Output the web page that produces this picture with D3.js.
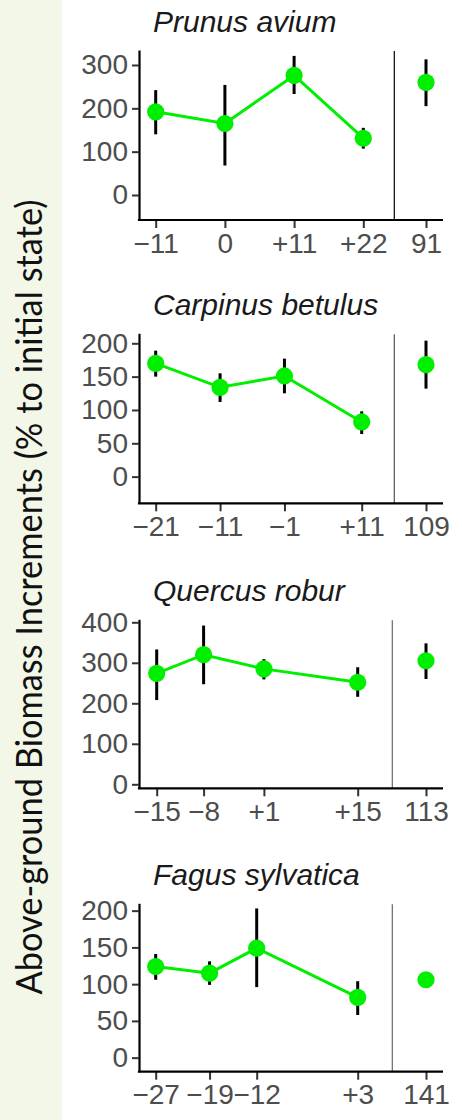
<!DOCTYPE html>
<html>
<head>
<meta charset="utf-8">
<script src="https://cdn.jsdelivr.net/npm/d3@7"></script>
<style>
  html, body { margin: 0; padding: 0; background: #ffffff; }
  svg { display: block; }
</style>
</head>
<body>
<div id="chart"></div>
<script>
// Species shown, one panel each
const species = ["Prunus avium", "Carpinus betulus", "Quercus robur", "Fagus sylvatica"];

// Years relative to the event (main segment) and tick labels
const years = [
  [-11, 0, 11, 22],
  [-21, -11, -1, 11],
  [-15, -8, 1, 15],
  [-27, -19, -12, 3]
];
const yearLabels = [
  ["\u221211", "0", "+11", "+22"],
  ["\u221221", "\u221211", "\u22121", "+11"],
  ["\u221215", "\u22128", "+1", "+15"],
  ["\u221227", "\u221219", "\u221212", "+3"]
];

// Mean increment and error-bar limits (% to initial state)
const means = [
  [192, 165, 276, 131],
  [170, 134, 151, 82],
  [274, 320, 285, 252],
  [124, 115, 149, 82]
];
const lower = [
  [140, 68, 233, 107],
  [150, 112, 125, 64],
  [208, 247, 259, 216],
  [106, 99, 96, 58]
];
const upper = [
  [242, 254, 321, 155],
  [189, 155, 177, 98],
  [333, 392, 309, 289],
  [141, 131, 203, 104]
];

// Separate long-term value shown to the right of the divider
const tailLabels = ["91", "109", "113", "141"];
const tailMean = [260, 168, 305, 106];
const tailLower = [205, 132, 260, 100];
const tailUpper = [313, 204, 348, 112];

// Y axis limits and ticks per panel
const yLimits = [[-57.7, 334.6], [-40, 215], [-9.9, 407.4], [-19.1, 210]];
const yTicks = [
  [0, 100, 200, 300],
  [0, 50, 100, 150, 200],
  [0, 100, 200, 300, 400],
  [0, 50, 100, 150, 200]
];

const yTitle = "Above-ground Biomass Increments (% to initial state)";

// ---- layout ----
const W = 462, H = 1120;
const panelTop = [50, 333.3, 619.3, 903.3];
const panelBottom = [220, 503.3, 788.3, 1071.7];
const mainRange = [[155.7, 363.3], [155.7, 361.7], [156.7, 357.7], [155.7, 357.7]];
const dividerX = [394.3, 394.3, 392.3, 392.3];
const dividerColor = ["#000000", "#555555", "#666666", "#666666"];
const tailX = 426;
const axisLeftX = 139, axisRightX = 443;

const GREEN = "#00ee00";
const TICK_FONT = "'Liberation Sans', Arial, Helvetica, sans-serif";

const svg = d3.select("#chart").append("svg")
  .attr("width", W).attr("height", H);

// side strip with the shared y title
svg.append("rect")
  .attr("x", 0).attr("y", 0).attr("width", 62).attr("height", H)
  .attr("fill", "#f3f7e8");

svg.append("text")
  .attr("transform", "translate(42,597) rotate(-90)")
  .attr("text-anchor", "middle")
  .attr("font-family", "Lato, 'Open Sans', sans-serif")
  .attr("font-size", 36)
  .attr("fill", "#111111")
  .attr("textLength", 795)
  .attr("lengthAdjust", "spacingAndGlyphs")
  .text(yTitle);

species.forEach((name, i) => {
  const g = svg.append("g");
  const top = panelTop[i], bottom = panelBottom[i];

  const y = d3.scaleLinear().domain(yLimits[i]).range([bottom, top]);
  const x = d3.scaleLinear()
    .domain([years[i][0], years[i][years[i].length - 1]])
    .range(mainRange[i]);

  // x positions of all ticks (main segment + tail) for the bottom axis
  const xLabels = yearLabels[i].concat([tailLabels[i]]);
  const xPos = years[i].map(v => x(v)).concat([tailX]);
  const xAxisScale = d3.scaleOrdinal().domain(xLabels).range(xPos);

  // title
  g.append("text")
    .attr("x", 153).attr("y", top - 18.5)
    .attr("font-family", TICK_FONT)
    .attr("font-style", "italic")
    .attr("font-size", 30)
    .attr("fill", "#1a1a1a")
    .text(name);

  // divider between the two time segments
  g.append("line")
    .attr("x1", dividerX[i]).attr("x2", dividerX[i])
    .attr("y1", top + 1).attr("y2", bottom)
    .attr("stroke", dividerColor[i]).attr("stroke-width", 1.2);

  // y axis
  const ya = g.append("g")
    .attr("transform", `translate(${axisLeftX},0)`)
    .call(d3.axisLeft(y).tickValues(yTicks[i]).tickSize(7).tickSizeOuter(0).tickPadding(4));
  ya.select(".domain").attr("stroke", "#000").attr("stroke-width", 2.2);
  ya.selectAll(".tick line").attr("stroke", "#333").attr("stroke-width", 2);
  ya.selectAll(".tick text")
    .attr("font-family", TICK_FONT).attr("font-size", 28).attr("fill", "#4d4d4d");

  // x axis
  const xa = g.append("g")
    .attr("transform", `translate(0,${bottom})`)
    .call(d3.axisBottom(xAxisScale).tickSize(8).tickPadding(4));
  xa.select(".domain").remove();
  xa.selectAll(".tick line").attr("stroke", "#333").attr("stroke-width", 2);
  xa.selectAll(".tick text")
    .attr("font-family", TICK_FONT).attr("font-size", 28).attr("fill", "#4d4d4d")
    .attr("dy", "0.74em");
  g.append("line")
    .attr("x1", axisLeftX - 1.1).attr("x2", axisRightX)
    .attr("y1", bottom).attr("y2", bottom)
    .attr("stroke", "#000").attr("stroke-width", 2.2);

  const pts = years[i].map((v, j) => ({ x: v, m: means[i][j], lo: lower[i][j], hi: upper[i][j] }));

  // connecting line for the main segment
  g.append("path")
    .datum(pts)
    .attr("fill", "none")
    .attr("stroke", GREEN)
    .attr("stroke-width", 3)
    .attr("d", d3.line().x(d => x(d.x)).y(d => y(d.m)));

  // error bars
  g.selectAll(".err").data(pts).join("line")
    .attr("x1", d => x(d.x)).attr("x2", d => x(d.x))
    .attr("y1", d => y(d.lo)).attr("y2", d => y(d.hi))
    .attr("stroke", "#000").attr("stroke-width", 3);
  g.append("line")
    .attr("x1", tailX).attr("x2", tailX)
    .attr("y1", y(tailLower[i])).attr("y2", y(tailUpper[i]))
    .attr("stroke", "#000").attr("stroke-width", 3);

  // points
  g.selectAll(".pt").data(pts).join("circle")
    .attr("cx", d => x(d.x)).attr("cy", d => y(d.m)).attr("r", 8.6)
    .attr("fill", GREEN);
  g.append("circle")
    .attr("cx", tailX).attr("cy", y(tailMean[i])).attr("r", 8.6)
    .attr("fill", GREEN);
});
</script>
</body>
</html>
